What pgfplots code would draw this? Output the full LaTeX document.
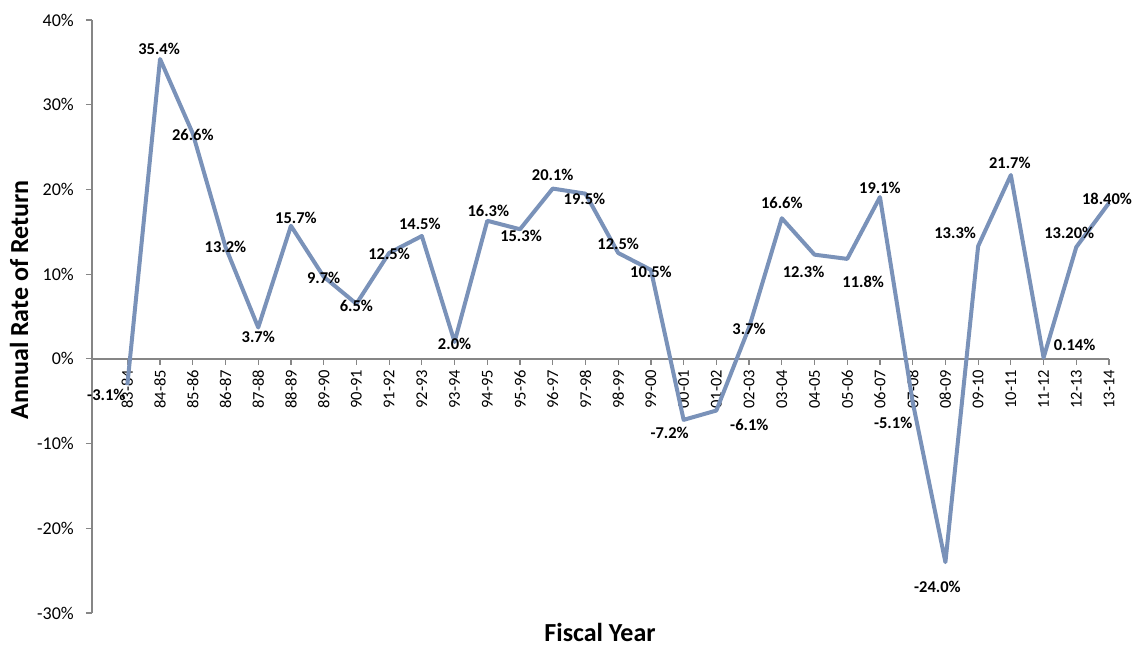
\documentclass[border=0pt]{standalone}
\usepackage{pgfplots}
\pgfplotsset{compat=1.18}
\usepackage{fontspec}
\setmainfont{Carlito}
\definecolor{linec}{RGB}{122,146,185}
\definecolor{axc}{RGB}{134,134,134}
\begin{document}
\begin{tikzpicture}
\path[use as bounding box] (0,0) rectangle (1135pt,646pt);
\begin{axis}[
  at={(92pt,33pt)}, anchor=south west,
  scale only axis, width=1017pt, height=593pt,
  xmin=-1.08, xmax=30, ymin=-30, ymax=40,
  axis y line=left, axis x line=middle,
  axis line style={-, color=axc, line width=1.5pt},
  hide obscured x ticks=false, hide obscured y ticks=false,
  clip=false,
  tick align=outside, major tick length=6pt,
  every tick/.style={color=axc, line width=1.2pt},
  ytick={-30,-20,-10,0,10,20,30,40},
  yticklabels={-30\%,-20\%,-10\%,0\%,10\%,20\%,30\%,40\%},
  yticklabel style={anchor=east, inner sep=0pt, xshift=-12pt, font=\fontsize{18}{20}\selectfont, text=black},
  xtick={0,...,30},
  xticklabels={83-84,84-85,85-86,86-87,87-88,88-89,89-90,90-91,91-92,92-93,93-94,94-95,95-96,96-97,97-98,98-99,99-00,00-01,01-02,02-03,03-04,04-05,05-06,06-07,07-08,08-09,09-10,10-11,11-12,12-13,13-14},
  xticklabel style={rotate=90, anchor=east, inner sep=0pt, xshift=-5pt, font=\fontsize{16.5}{18}\selectfont, text=black},
  xlabel={Fiscal Year},
  ylabel={Annual Rate of Return},
  every axis x label/.style={at={(axis description cs:0.4995,-0.032)}, anchor=center, font=\fontsize{26}{28}\selectfont\bfseries},
  every axis y label/.style={at={(axis description cs:-0.0718,0.528)}, rotate=90, anchor=center, font=\fontsize{26}{28}\selectfont\bfseries},
]
\addplot[color=linec, line width=4pt, line join=round, mark=none,
  point meta=explicit symbolic,
  visualization depends on={value \thisrow{dx}\as\dx},
  visualization depends on={value \thisrow{dy}\as\dy},
  nodes near coords={\textbf{\pgfplotspointmeta\%}},
  every node near coord/.append style={anchor=center, inner sep=0pt, xshift=\dx pt, yshift=\dy pt, text=black, font=\fontsize{16.5}{18}\selectfont},
] table[x=x, y=y, meta=lbl] {
x y lbl dx dy
0 -3.1 -3.1 -21 -10
1 35.4 35.4 -1 10
2 26.6 26.6 0 -1
3 13.2 13.2 0 0
4 3.7 3.7 0 -9.5
5 15.7 15.7 5 8
6 9.7 9.7 0 -1
7 6.5 6.5 0 -2
8 12.5 12.5 0 -1
9 14.5 14.5 -2 12
10 2.0 2.0 0 -2
11 16.3 16.3 1 10
12 15.3 15.3 1 -7
13 20.1 20.1 0 14
14 19.5 19.5 -1 -5
15 12.5 12.5 0 9
16 10.5 10.5 0 -1.5
17 -7.2 -7.2 -14 -13
18 -6.1 -6.1 33 -14
19 3.7 3.7 0 -1
20 16.6 16.6 0 15
21 12.3 12.3 -11 -17
22 11.8 11.8 16 -23
23 19.1 19.1 0 9.5
24 -5.1 -5.1 -19.5 -21
25 -24.0 -24.0 -8 -25
26 13.3 13.3 -23 13.5
27 21.7 21.7 -1 12
28 0.14 0.14 31 13
29 13.2 13.20 -7 14
30 18.4 18.40 -2 4
};
\end{axis}
\end{tikzpicture}
\end{document}
